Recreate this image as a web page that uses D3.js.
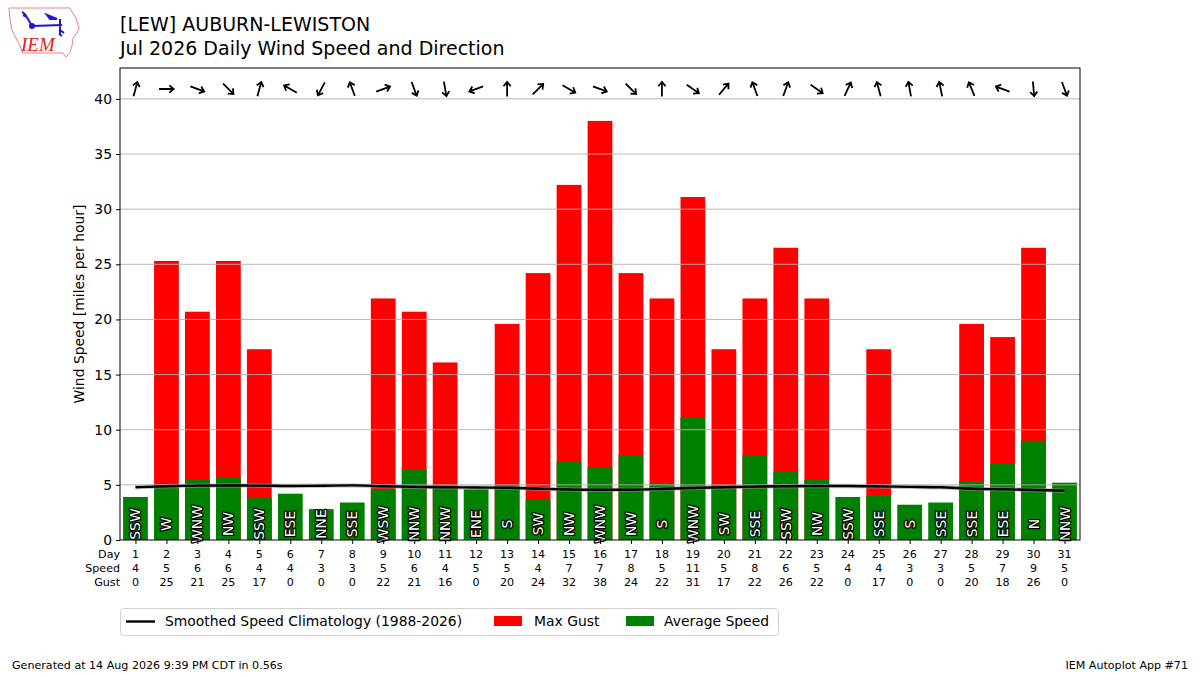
<!DOCTYPE html>
<html>
<head>
<meta charset="utf-8">
<script src="https://cdn.jsdelivr.net/npm/d3@7"></script>
<style>
  body { margin: 0; background: #fff; }
  svg { font-family: "DejaVu Sans", sans-serif; }
</style>
</head>
<body>
<svg id="chart" width="1200" height="675"></svg>
<script>
// daily values, Jul 2026, LEW
const days = d3.range(1, 32);
const avgSpeed = [3.9, 4.8, 5.5, 5.7, 3.8, 4.2, 2.8, 3.4, 4.6, 6.4, 4.7, 4.6, 4.9, 3.7, 7.1, 6.6,
  7.7, 5.1, 11.1, 4.9, 7.7, 6.2, 5.5, 3.9, 4.0, 3.2, 3.4, 5.3, 6.9, 9.0, 5.2];
const maxGust = [0, 25.3, 20.7, 25.3, 17.3, 0, 0, 0, 21.9, 20.7, 16.1, 0, 19.6, 24.2, 32.2, 38.0,
  24.2, 21.9, 31.1, 17.3, 21.9, 26.5, 21.9, 0, 17.3, 0, 0, 19.6, 18.4, 26.5, 0];
const speedLabels = [4, 5, 6, 6, 4, 4, 3, 3, 5, 6, 4, 5, 5, 4, 7, 7, 8, 5, 11, 5, 8, 6, 5, 4, 4, 3, 3, 5, 7, 9, 5];
const gustLabels = [0, 25, 21, 25, 17, 0, 0, 0, 22, 21, 16, 0, 20, 24, 32, 38, 24, 22, 31, 17, 22, 26, 22, 0, 17, 0, 0, 20, 18, 26, 0];
const dirLabels = ['SSW', 'W', 'WNW', 'NW', 'SSW', 'ESE', 'NNE', 'SSE', 'WSW', 'NNW', 'NNW', 'ENE', 'S', 'SW', 'NW', 'WNW',
  'NW', 'S', 'WNW', 'SW', 'SSE', 'SSW', 'NW', 'SSW', 'SSE', 'S', 'SSE', 'SSE', 'ESE', 'N', 'NNW'];
// average wind direction (degrees, from)
const windDir = [195, 270, 290, 315, 195, 120, 28, 160, 250, 340, 350, 70, 180, 225, 300, 290,
  315, 180, 305, 220, 160, 200, 305, 205, 165, 170, 168, 158, 110, 355, 340];
const climo = [4.78, 4.88, 4.93, 4.94, 4.93, 4.9, 4.92, 4.95, 4.87, 4.82, 4.78, 4.76, 4.74, 4.65, 4.58, 4.55,
  4.56, 4.63, 4.72, 4.78, 4.84, 4.88, 4.9, 4.9, 4.86, 4.82, 4.78, 4.65, 4.6, 4.54, 4.47];
const yTicks = d3.range(0, 41, 5);

const svg = d3.select('#chart');
const plotL = 120, plotR = 1080, plotT = 68, plotB = 540;

const x = d3.scaleLinear().domain([0.5, 31.5]).range([plotL, plotR]);
const y = d3.scaleLinear().domain([0, 42.8]).range([plotB, plotT]);
const bw = (x(1.8) - x(1));

// logo
const logo = svg.append('g');
logo.append('path')
  .attr('d', 'M9,8 L70,8 L72,12 L76,18 L79,28 L77,33 L73,38 L72,46 L70,52 L66,57 L63,53 L23,53 L20,46 L16,38 L12,30 L10,20 Z')
  .attr('fill', 'none').attr('stroke', '#f08080').attr('stroke-width', 1);
logo.append('path')
  .attr('d', 'M32,26 L62,25 M60,19 L60,34 M32,26 L25,14 M25,14 L22,12 M27,17 L23,15 M47,15 L57,19 L50,19 Z M60,30 L64,33 M59,34 L62,36')
  .attr('fill', '#1a1ad0').attr('stroke', '#1a1ad0').attr('stroke-width', 2);
logo.append('circle').attr('cx', 32).attr('cy', 26).attr('r', 3).attr('fill', '#1a1ad0');
logo.append('text').attr('x', 21).attr('y', 51)
  .attr('font-family', 'Liberation Serif, serif').attr('font-style', 'italic')
  .attr('font-size', 19).attr('fill', '#e02020').text('IEM');

// titles
svg.append('text').attr('x', 120).attr('y', 31).attr('font-size', 19).text('[LEW] AUBURN-LEWISTON');
svg.append('text').attr('x', 120).attr('y', 55).attr('font-size', 19).text('Jul 2026 Daily Wind Speed and Direction');

// bars
const plot = svg.append('g');
plot.selectAll('rect.gust').data(days.filter((d, i) => maxGust[i] > 0)).join('rect')
  .attr('class', 'gust')
  .attr('x', d => x(d) - bw / 2).attr('width', bw)
  .attr('y', d => y(maxGust[d - 1])).attr('height', d => y(0) - y(maxGust[d - 1]))
  .attr('fill', '#ff0000');
plot.selectAll('rect.avg').data(days).join('rect')
  .attr('class', 'avg')
  .attr('x', d => x(d) - bw / 2).attr('width', bw)
  .attr('y', d => y(avgSpeed[d - 1])).attr('height', d => y(0) - y(avgSpeed[d - 1]))
  .attr('fill', '#008000');

// grid
svg.append('g').selectAll('line').data(yTicks.filter(d => d > 0)).join('line')
  .attr('x1', plotL).attr('x2', plotR)
  .attr('y1', d => y(d)).attr('y2', d => y(d))
  .attr('stroke', '#b0b0b0').attr('stroke-width', 0.9);

// direction labels
svg.append('g').selectAll('text').data(days).join('text')
  .attr('transform', d => `translate(${x(d) + 5},${y(1.45)}) rotate(-90)`)
  .attr('text-anchor', 'middle')
  .attr('font-size', 13.9)
  .attr('fill', '#fff').attr('stroke', '#000').attr('stroke-width', 2.6)
  .attr('paint-order', 'stroke').attr('stroke-linejoin', 'round')
  .text(d => dirLabels[d - 1]);

// climatology
const line = d3.line().x(d => x(d)).y(d => y(climo[d - 1])).curve(d3.curveMonotoneX);
svg.append('path').attr('d', line(days)).attr('fill', 'none')
  .attr('stroke', '#999').attr('stroke-opacity', 0.5).attr('stroke-width', 4.5);
svg.append('path').attr('d', line(days)).attr('fill', 'none')
  .attr('stroke', '#000').attr('stroke-width', 2.4);

// arrows
svg.append('g').selectAll('path').data(days).join('path')
  .attr('transform', d => `translate(${x(d)},89) rotate(${windDir[d - 1] + 180})`)
  .attr('d', 'M0,7.5 L0,-7 M-3.6,-2.8 L0,-7.2 L3.6,-2.8')
  .attr('fill', 'none').attr('stroke', '#000').attr('stroke-width', 1.8)
  .attr('stroke-linejoin', 'miter');

// axes frame
svg.append('rect').attr('x', plotL).attr('y', plotT).attr('width', plotR - plotL).attr('height', plotB - plotT)
  .attr('fill', 'none').attr('stroke', '#000').attr('stroke-width', 1);

const yAxis = svg.append('g').attr('transform', `translate(${plotL},0)`)
  .call(d3.axisLeft(y).tickValues(yTicks).tickSize(4).tickPadding(4));
yAxis.select('.domain').remove();
yAxis.selectAll('text').attr('font-size', 13.9).attr('font-family', 'DejaVu Sans').attr('fill', '#000');

const xAxis = svg.append('g').attr('transform', `translate(0,${plotB})`)
  .call(d3.axisBottom(x).tickValues(days).tickSize(4).tickFormat(''));
xAxis.select('.domain').remove();

svg.append('text').attr('transform', `translate(84,${(plotT + plotB) / 2}) rotate(-90)`)
  .attr('text-anchor', 'middle').attr('font-size', 13.9).text('Wind Speed [miles per hour]');

// table under axis
const rows = [['Day', days], ['Speed', speedLabels], ['Gust', gustLabels]];
rows.forEach((r, k) => {
  const yy = 558 + k * 14;
  svg.append('text').attr('x', 120).attr('y', yy).attr('text-anchor', 'end')
    .attr('font-size', 11.1).text(r[0]);
  svg.append('g').selectAll('text').data(days).join('text')
    .attr('x', d => x(d)).attr('y', yy).attr('text-anchor', 'middle')
    .attr('font-size', 11.1).text((d, i) => r[1][i]);
});

// legend
const lg = svg.append('g');
lg.append('rect').attr('x', 120.5).attr('y', 608.5).attr('width', 658).attr('height', 27).attr('rx', 3)
  .attr('fill', '#fff').attr('stroke', '#d0d0d0');
lg.append('line').attr('x1', 126).attr('x2', 155).attr('y1', 621.5).attr('y2', 621.5)
  .attr('stroke', '#000').attr('stroke-width', 2.4);
lg.append('text').attr('x', 165).attr('y', 626).attr('font-size', 13.9).text('Smoothed Speed Climatology (1988-2026)');
lg.append('rect').attr('x', 494).attr('y', 616).attr('width', 28).attr('height', 10).attr('fill', '#ff0000');
lg.append('text').attr('x', 534).attr('y', 626).attr('font-size', 13.9).text('Max Gust');
lg.append('rect').attr('x', 626).attr('y', 616).attr('width', 28).attr('height', 10).attr('fill', '#008000');
lg.append('text').attr('x', 664).attr('y', 626).attr('font-size', 13.9).text('Average Speed');

// footer
svg.append('text').attr('x', 12).attr('y', 669).attr('font-size', 11.1).text('Generated at 14 Aug 2026 9:39 PM CDT in 0.56s');
svg.append('text').attr('x', 1188).attr('y', 669).attr('text-anchor', 'end').attr('font-size', 11.1).text('IEM Autoplot App #71');
</script>
</body>
</html>
